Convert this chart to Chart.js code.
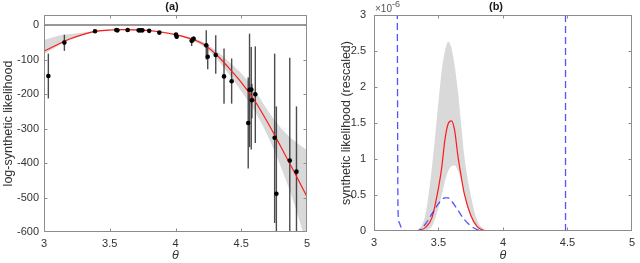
<!DOCTYPE html>
<html>
<head>
<meta charset="utf-8">
<script src="https://cdn.jsdelivr.net/npm/chart.js@4"></script>
<style>
  html, body { margin: 0; padding: 0; background: #fff; }
  #wrap { position: relative; width: 640px; height: 263px; }
  #wrap canvas { position: absolute; top: 0; }
</style>
</head>
<body>
<div id="wrap">
  <canvas id="chart-a" width="320" height="263" style="left:0"></canvas>
  <canvas id="chart-b" width="320" height="263" style="left:320px"></canvas>
</div>
<script>
// --- DATA ---
const xTicks = [3, 3.5, 4, 4.5, 5];
const yTicksA = [-600, -500, -400, -300, -200, -100, 0];
const yTicksB = [0, 0.5, 1, 1.5, 2, 2.5, 3];

// (a) simulated log-SL estimates with error bars
const simTheta = [3.033, 3.155, 3.388, 3.550, 3.558, 3.636, 3.720, 3.733, 3.748, 3.800, 3.877, 4.004, 4.009, 4.123, 4.138, 4.234, 4.245, 4.306, 4.369, 4.427, 4.553, 4.563, 4.576, 4.581, 4.607, 4.754, 4.767, 4.869, 4.920];
const simLogSL = [-148, -51, -18, -14.5, -15.5, -14.5, -15.5, -15.5, -15.5, -17, -22, -28, -34, -46, -40, -59, -92, -87, -149, -163, -284, -188, -187, -218, -201, -327, -489, -393, -425];
const simHi = [-83, -28, -16, -12.5, -13.5, -12.5, -13.5, -13.5, -13.5, -15, -19, -24, -29, -35, -33, -15, -62, -30, -68, -97, -152, -25, -64, -170, -62, -83, -236, -95, -236];
const simLo = [-213, -75, -20, -16.5, -17.5, -16.5, -17.5, -17.5, -17.5, -19, -25, -32, -39, -61, -50, -100, -128, -141, -228, -228, -416, -354, -361, -270, -342, -574, -640, -640, -640];

// (a) fitted curve and its band
const fitTheta = [3.0, 3.1, 3.2, 3.3, 3.4, 3.5, 3.6, 3.7, 3.8, 3.9, 4.0, 4.1, 4.2, 4.3, 4.4, 4.5, 4.6, 4.7, 4.8, 4.9, 5.0];
const fitLogSL = [-76, -57, -40, -27, -18, -14.5, -13.5, -14, -16, -21, -28, -38, -53, -82, -122, -166, -218, -282, -352, -424, -498];
const fitUpper = [-44, -32, -26, -22, -16, -12.5, -11.5, -12, -14, -19, -26, -35, -47, -72, -104, -140, -188, -247, -298, -335, -363];
const fitLower = [-84, -62, -43, -29, -20, -16.5, -15.5, -16, -18, -23, -30, -41, -59, -92, -140, -192, -248, -320, -410, -515, -640];
const zeroTheta = [3, 5];
const zeroLogSL = [0, 0];

// (b) synthetic likelihood (x 1e-6)
const slTheta = [3.0, 3.3, 3.35, 3.4, 3.45, 3.5, 3.525, 3.55, 3.575, 3.6, 3.625, 3.65, 3.675, 3.7, 3.75, 3.8, 3.85, 3.9, 5.0];
const slFit = [0, 0, 0.01, 0.05, 0.19, 0.6, 0.88, 1.27, 1.49, 1.53, 1.40, 1.05, 0.77, 0.52, 0.22, 0.06, 0.01, 0, 0];
const slUpper = [0, 0, 0.03, 0.24, 0.9, 1.8, 2.23, 2.5, 2.63, 2.55, 2.3, 1.95, 1.5, 1.05, 0.5, 0.15, 0.03, 0, 0];
const slLower = [0, 0, 0, 0.01, 0.07, 0.32, 0.5, 0.69, 0.83, 0.9, 0.91, 0.84, 0.7, 0.5, 0.2, 0.05, 0.005, 0, 0];
const altTheta = [3.18, 3.186, 3.195, 3.21, 3.23, 3.25, 3.3, 3.35, 3.4, 3.45, 3.5, 3.55, 3.575, 3.6, 3.65, 3.7, 3.75, 3.8, 3.85, 3.9, 4.485];
const altSL = [3.5, 0.3, 0.12, 0.05, 0.01, 0, 0, 0.01, 0.1, 0.24, 0.38, 0.46, 0.46, 0.42, 0.29, 0.16, 0.07, 0.02, 0.005, 0, 0];
const altEdgeTheta = [4.485, 4.485];
const altEdgeSL = [0, 3.5];

// --- HELPERS ---
const pts = (xs, ys) => xs.map((x, i) => ({ x: x, y: ys[i] }));
const FONT = '"Liberation Sans", Arial, Helvetica, sans-serif';
const bandColor = 'rgb(217,217,217)';
const redColor = '#ff1a1a';
const blueColor = 'rgba(40,40,255,0.8)';
const frameColor = '#8c8c8c';

Chart.defaults.font.family = FONT;
Chart.defaults.font.size = 11;
Chart.defaults.color = '#333333';

const panelFrame = {
  id: 'panelFrame',
  afterDraw(chart, args, opts) {
    const { ctx, chartArea: a, scales } = chart;
    const l = Math.round(a.left) + 0.5, r = Math.round(a.right) - 0.5;
    const t = Math.round(a.top) + 0.5, b = Math.round(a.bottom) - 0.5;
    ctx.save();
    ctx.strokeStyle = frameColor;
    ctx.lineWidth = 1;
    ctx.beginPath();
    ctx.rect(l, t, r - l, b - t);
    scales.x.ticks.forEach(tk => {
      const px = Math.min(r, Math.max(l, Math.round(scales.x.getPixelForValue(tk.value)) + 0.5));
      ctx.moveTo(px, b); ctx.lineTo(px, b - 3);
      ctx.moveTo(px, t); ctx.lineTo(px, t + 3);
    });
    scales.y.ticks.forEach(tk => {
      const py = Math.min(b, Math.max(t, Math.round(scales.y.getPixelForValue(tk.value)) + 0.5));
      ctx.moveTo(l, py); ctx.lineTo(l + 3, py);
      ctx.moveTo(r, py); ctx.lineTo(r - 3, py);
    });
    ctx.stroke();

    ctx.fillStyle = '#1a1a1a';
    ctx.font = 'bold 11px ' + FONT;
    ctx.textAlign = 'center';
    ctx.textBaseline = 'middle';
    ctx.fillText(opts.text, opts.x, 7);

    if (opts.exponent) {
      ctx.fillStyle = '#555555';
      ctx.textAlign = 'left';
      ctx.textBaseline = 'alphabetic';
      ctx.font = '10px ' + FONT;
      ctx.fillText('\u00d710', a.left + 1, 12);
      ctx.font = '9px ' + FONT;
      ctx.fillText('-6', a.left + 18, 6.5);
    }
    ctx.restore();
  }
};

// error bars go under the fitted curve, over the band
const errorBars = {
  id: 'errorBars',
  beforeDatasetDraw(chart, args) {
    if (args.index !== 1) return;
    const { ctx, chartArea: a, scales: { x, y } } = chart;
    ctx.save();
    ctx.beginPath();
    ctx.rect(a.left, a.top, a.width, a.height);
    ctx.clip();
    ctx.strokeStyle = 'rgba(45,45,45,0.85)';
    ctx.lineWidth = 1.4;
    simTheta.forEach((t, i) => {
      const px = x.getPixelForValue(t);
      ctx.beginPath();
      ctx.moveTo(px, y.getPixelForValue(simHi[i]));
      ctx.lineTo(px, y.getPixelForValue(simLo[i]));
      ctx.stroke();
    });
    ctx.restore();
  }
};

function xScale(height) {
  return {
    type: 'linear',
    min: 3,
    max: 5,
    afterBuildTicks: s => { s.ticks = xTicks.map(v => ({ value: v })); },
    afterFit: s => { s.height = height; },
    grid: { display: false, drawTicks: false },
    border: { display: false },
    ticks: { padding: 5, font: { size: 11 }, callback: v => String(v) },
    title: { display: true, text: '\u03b8', font: { size: 12.5, style: 'italic' }, padding: { top: 0, bottom: 0 } }
  };
}

function yScale(min, max, tickVals, width, label, tickPad, titlePad) {
  return {
    type: 'linear',
    min: min,
    max: max,
    afterBuildTicks: s => { s.ticks = tickVals.map(v => ({ value: v })); },
    afterFit: s => { s.width = width; },
    grid: { display: false, drawTicks: false },
    border: { display: false },
    ticks: { padding: tickPad, font: { size: 11 }, callback: v => String(v) },
    title: { display: true, text: label, font: { size: 12.5 }, padding: { top: titlePad, bottom: 0 } }
  };
}

const line = (data, color, width, extra) => Object.assign({
  data: data,
  borderColor: color,
  borderWidth: width,
  pointRadius: 0,
  fill: false,
  cubicInterpolationMode: 'monotone'
}, extra || {});

// --- PANEL (a) ---
new Chart(document.getElementById('chart-a'), {
  type: 'line',
  data: {
    datasets: [
      {
        data: pts(simTheta, simLogSL),
        showLine: false,
        pointRadius: 2.3,
        pointBorderWidth: 0,
        pointBackgroundColor: '#000000',
        borderColor: '#000000'
      },
      line(pts(fitTheta, fitLogSL), redColor, 1.2),
      line(pts(zeroTheta, zeroLogSL), '#333333', 1, { cubicInterpolationMode: 'default' }),
      line(pts(fitTheta, fitLower), 'rgba(0,0,0,0)', 0, { fill: '+1', backgroundColor: bandColor }),
      line(pts(fitTheta, fitUpper), 'rgba(0,0,0,0)', 0)
    ]
  },
  options: {
    responsive: false,
    animation: false,
    layout: { padding: { top: 15, right: 13, left: 0, bottom: 0 } },
    plugins: {
      legend: { display: false },
      tooltip: { enabled: false },
      panelFrame: { text: '(a)', x: 172 }
    },
    scales: {
      x: xScale(31),
      y: yScale(-600, 29, yTicksA, 44, 'log-synthetic likelihood', 5, 1)
    }
  },
  plugins: [errorBars, panelFrame]
});

// --- PANEL (b) ---
new Chart(document.getElementById('chart-b'), {
  type: 'line',
  data: {
    datasets: [
      line(pts(altTheta, altSL), blueColor, 1.3, { borderDash: [7, 4] }),
      line(pts(altEdgeTheta, altEdgeSL), blueColor, 1.3, { borderDash: [7, 4], cubicInterpolationMode: 'default' }),
      line(pts(slTheta, slFit), redColor, 1.2),
      line(pts(slTheta, slLower), 'rgba(0,0,0,0)', 0, { fill: '+1', backgroundColor: bandColor }),
      line(pts(slTheta, slUpper), 'rgba(0,0,0,0)', 0)
    ]
  },
  options: {
    responsive: false,
    animation: false,
    layout: { padding: { top: 15, right: 4, left: 0, bottom: 0 } },
    plugins: {
      legend: { display: false },
      tooltip: { enabled: false },
      panelFrame: { text: '(b)', x: 176, exponent: true }
    },
    scales: {
      x: xScale(32),
      y: yScale(0, 3, yTicksB, 54, 'synthetic likelihood (rescaled)', 8, 19)
    }
  },
  plugins: [panelFrame]
});
</script>
</body>
</html>
